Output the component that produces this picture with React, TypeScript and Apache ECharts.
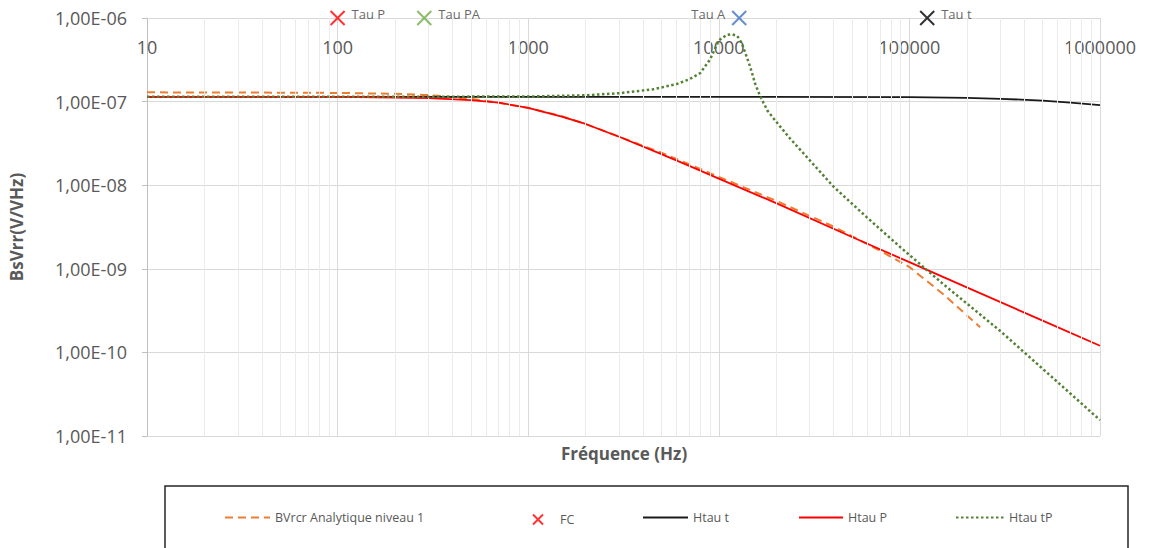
import React, { useEffect, useRef } from 'react';
import * as echarts from 'echarts';

// ---------- data ----------
const xTickLabels = ['10', '100', '1000', '10000', '100000', '1000000'];
const yTickLabels = ['1,00E-06', '1,00E-07', '1,00E-08', '1,00E-09', '1,00E-10', '1,00E-11'];

const freqBV = [10, 30, 100, 200, 300, 500, 700, 1000, 1500, 2000, 3000, 5000, 7000, 10000, 20000, 40000, 70000, 100000, 150000, 235000];
const valBV = [1.29e-7, 1.285e-7, 1.27e-7, 1.24e-7, 1.2e-7, 1.08e-7, 9.7e-8, 8.4e-8, 6.7e-8, 5.4e-8, 3.8e-8, 2.45e-8, 1.78e-8, 1.26e-8, 6.5e-9, 3.2e-9, 1.65e-9, 1.05e-9, 5.0e-10, 2.0e-10];

const freqHt = [10, 1000, 10000, 100000, 200000, 300000, 500000, 700000, 1000000];
const valHt = [1.14e-7, 1.14e-7, 1.14e-7, 1.13e-7, 1.11e-7, 1.08e-7, 1.03e-7, 9.7e-8, 9.1e-8];

const freqHp = [10, 100, 200, 300, 500, 700, 1000, 1500, 2000, 3000, 5000, 7000, 10000, 20000, 50000, 100000, 200000, 500000, 1000000];
const valHp = [1.14e-7, 1.14e-7, 1.12e-7, 1.1e-7, 1.04e-7, 9.7e-8, 8.4e-8, 6.6e-8, 5.4e-8, 3.8e-8, 2.35e-8, 1.7e-8, 1.2e-8, 6.1e-9, 2.4e-9, 1.2e-9, 6.0e-10, 2.4e-10, 1.2e-10];

const freqHtp = [10, 100, 1000, 2000, 3000, 4500, 6000, 7000, 8000, 9000, 10000, 11000, 11700, 12500, 13200, 14000, 14600, 15500, 16500, 18000, 20000, 23600, 40000, 60000, 90000, 150000, 300000, 600000, 1000000];
const valHtp = [1.14e-7, 1.14e-7, 1.15e-7, 1.19e-7, 1.26e-7, 1.4e-7, 1.62e-7, 1.85e-7, 2.2e-7, 3.2e-7, 5.4e-7, 6.26e-7, 6.4e-7, 6.1e-7, 5.0e-7, 3.44e-7, 2.62e-7, 1.65e-7, 1.15e-7, 7.8e-8, 5.75e-8, 3.64e-8, 9.6e-9, 4.1e-9, 1.8e-9, 6.6e-10, 1.8e-10, 4.4e-11, 1.55e-11];

const tauNames = ['Tau P', 'Tau PA', 'Tau A', 'Tau t'];
const tauFreqs = [100, 285, 12800, 124000];
const tauValues = [1e-6, 1e-6, 1e-6, 1e-6];

// ---------- styles ----------
const tauColors = ['#FF0000', '#70AD47', '#4472C4', '#000000'];
const tauLabelSide = ['right', 'right', 'left', 'right'];
const FONT = 'Open Sans';
const X_SYMBOL = 'path://M0,0L10,10M10,0L0,10';

const pairs = (xs: number[], ys: number[]) => xs.map((x, i) => [x, ys[i]]);

export default function App() {
  const ref = useRef<HTMLDivElement>(null);
  useEffect(() => {
    if (!ref.current) return;
    const chart = echarts.init(ref.current, undefined, { renderer: 'svg' });

    const minorLines: any[] = [];
    for (let d = 10; d < 1e6; d *= 10) {
      for (let m = 2; m <= 9; m++) minorLines.push({ xAxis: m * d });
    }
    for (let e = -11; e < -6; e++) {
      const d = Math.pow(10, e);
      for (let m = 2; m <= 9; m++) minorLines.push({ yAxis: m * d });
    }

    const legendBase = {
      top: 511,
      padding: 0,
      itemHeight: 14,
      selectedMode: false,
      itemStyle: { opacity: 0, borderWidth: 0 },
      textStyle: { fontSize: 12.5, color: '#595959', fontFamily: FONT },
    };

    chart.setOption({
      animation: false,
      backgroundColor: '#ffffff',
      textStyle: { fontFamily: FONT },
      grid: { left: 147, right: 49, top: 18, bottom: 112, containLabel: false },
      xAxis: {
        type: 'log',
        logBase: 10,
        min: 10,
        max: 1000000,
        splitNumber: 5,
        position: 'top',
        axisLine: { show: true, lineStyle: { color: '#D9D9D9', width: 1 } },
        axisTick: { show: false },
        axisLabel: {
          inside: true,
          margin: 20,
          fontSize: 18,
          color: '#595959',
          fontFamily: FONT,
          formatter: (v: number) => xTickLabels[Math.round(Math.log10(v)) - 1] ?? '',
        },
        splitLine: { show: true, lineStyle: { color: '#D9D9D9', width: 1 } },
      },
      yAxis: {
        type: 'log',
        logBase: 10,
        min: 1e-11,
        max: 1e-6,
        splitNumber: 5,
        name: 'BsVrr(V/VHz)',
        nameLocation: 'middle',
        nameGap: 122,
        nameRotate: 90,
        nameTextStyle: { fontSize: 17, fontWeight: 'bold', color: '#595959', fontFamily: FONT },
        axisLine: { show: true, lineStyle: { color: '#BFBFBF', width: 1 } },
        axisTick: { show: true, length: 5, lineStyle: { color: '#BFBFBF' } },
        axisLabel: {
          margin: 20,
          fontSize: 18,
          color: '#595959',
          fontFamily: FONT,
          formatter: (v: number) => yTickLabels[-Math.round(Math.log10(v)) - 6] ?? '',
        },
        splitLine: { show: true, lineStyle: { color: '#D9D9D9', width: 1 } },
      },
      legend: [
        { ...legendBase, left: 224, itemWidth: 45, data: ['BVrcr Analytique niveau 1'] },
        {
          ...legendBase,
          left: 532,
          top: 513,
          itemWidth: 10,
          itemHeight: 10,
          itemStyle: {},
          data: ['FC'],
          textStyle: { ...legendBase.textStyle, padding: [0, 0, 0, 12] },
        },
        { ...legendBase, left: 642, itemWidth: 45, data: ['Htau t'] },
        { ...legendBase, left: 798, itemWidth: 44, data: ['Htau P'] },
        { ...legendBase, left: 955, itemWidth: 48, data: ['Htau tP'] },
      ],
      graphic: [
        {
          type: 'rect',
          shape: { x: 165, y: 486, width: 963, height: 90 },
          style: { fill: 'none', stroke: '#262626', lineWidth: 1.5 },
          silent: true,
        },
        {
          type: 'text',
          x: 624,
          y: 453,
          style: {
            text: 'Fréquence (Hz)',
            fontSize: 17,
            fontWeight: 'bold',
            fill: '#595959',
            fontFamily: FONT,
            align: 'center',
            verticalAlign: 'middle',
          },
          silent: true,
        },
      ],
      series: [
        {
          name: 'minorGrid',
          type: 'line',
          data: [],
          silent: true,
          markLine: {
            silent: true,
            symbol: ['none', 'none'],
            label: { show: false },
            lineStyle: { color: '#EBEBEB', width: 1, type: 'solid' },
            emphasis: { disabled: true },
            data: minorLines,
          },
        },
        {
          name: 'BVrcr Analytique niveau 1',
          type: 'line',
          symbol: 'none',
          color: '#ED7D31',
          lineStyle: { color: '#ED7D31', width: 2, type: [8, 5] },
          data: pairs(freqBV, valBV),
          z: 3,
        },
        {
          name: 'FC',
          type: 'scatter',
          symbol: X_SYMBOL,
          symbolSize: 14,
          clip: false,
          itemStyle: { color: 'transparent', borderColor: '#FF0000', borderWidth: 2 },
          label: { show: true, formatter: '{b}', fontSize: 13, color: '#404040', fontFamily: FONT, offset: [0, -4], distance: 6 },
          data: tauNames.map((n, i) => ({
            name: n,
            value: [tauFreqs[i], tauValues[i]],
            itemStyle: { color: 'transparent', borderColor: tauColors[i], borderWidth: 2 },
            label: { position: tauLabelSide[i] },
          })),
          z: 6,
        },
        {
          name: 'Htau t',
          type: 'line',
          symbol: 'none',
          color: '#1A1A1A',
          lineStyle: { color: '#1A1A1A', width: 1.8 },
          data: pairs(freqHt, valHt),
          z: 3,
        },
        {
          name: 'Htau P',
          type: 'line',
          symbol: 'none',
          color: '#FF0000',
          lineStyle: { color: '#FF0000', width: 1.8 },
          data: pairs(freqHp, valHp),
          z: 4,
        },
        {
          name: 'Htau tP',
          type: 'line',
          symbol: 'none',
          color: '#548235',
          lineStyle: { color: '#548235', width: 2.5, type: [2.5, 2.5] },
          data: pairs(freqHtp, valHtp),
          z: 5,
        },
      ],
    });
    return () => chart.dispose();
  }, []);

  return (
    <div
      ref={ref}
      style={{ position: 'fixed', left: 0, top: 0, width: 1149, height: 548, background: '#fff' }}
    />
  );
}
